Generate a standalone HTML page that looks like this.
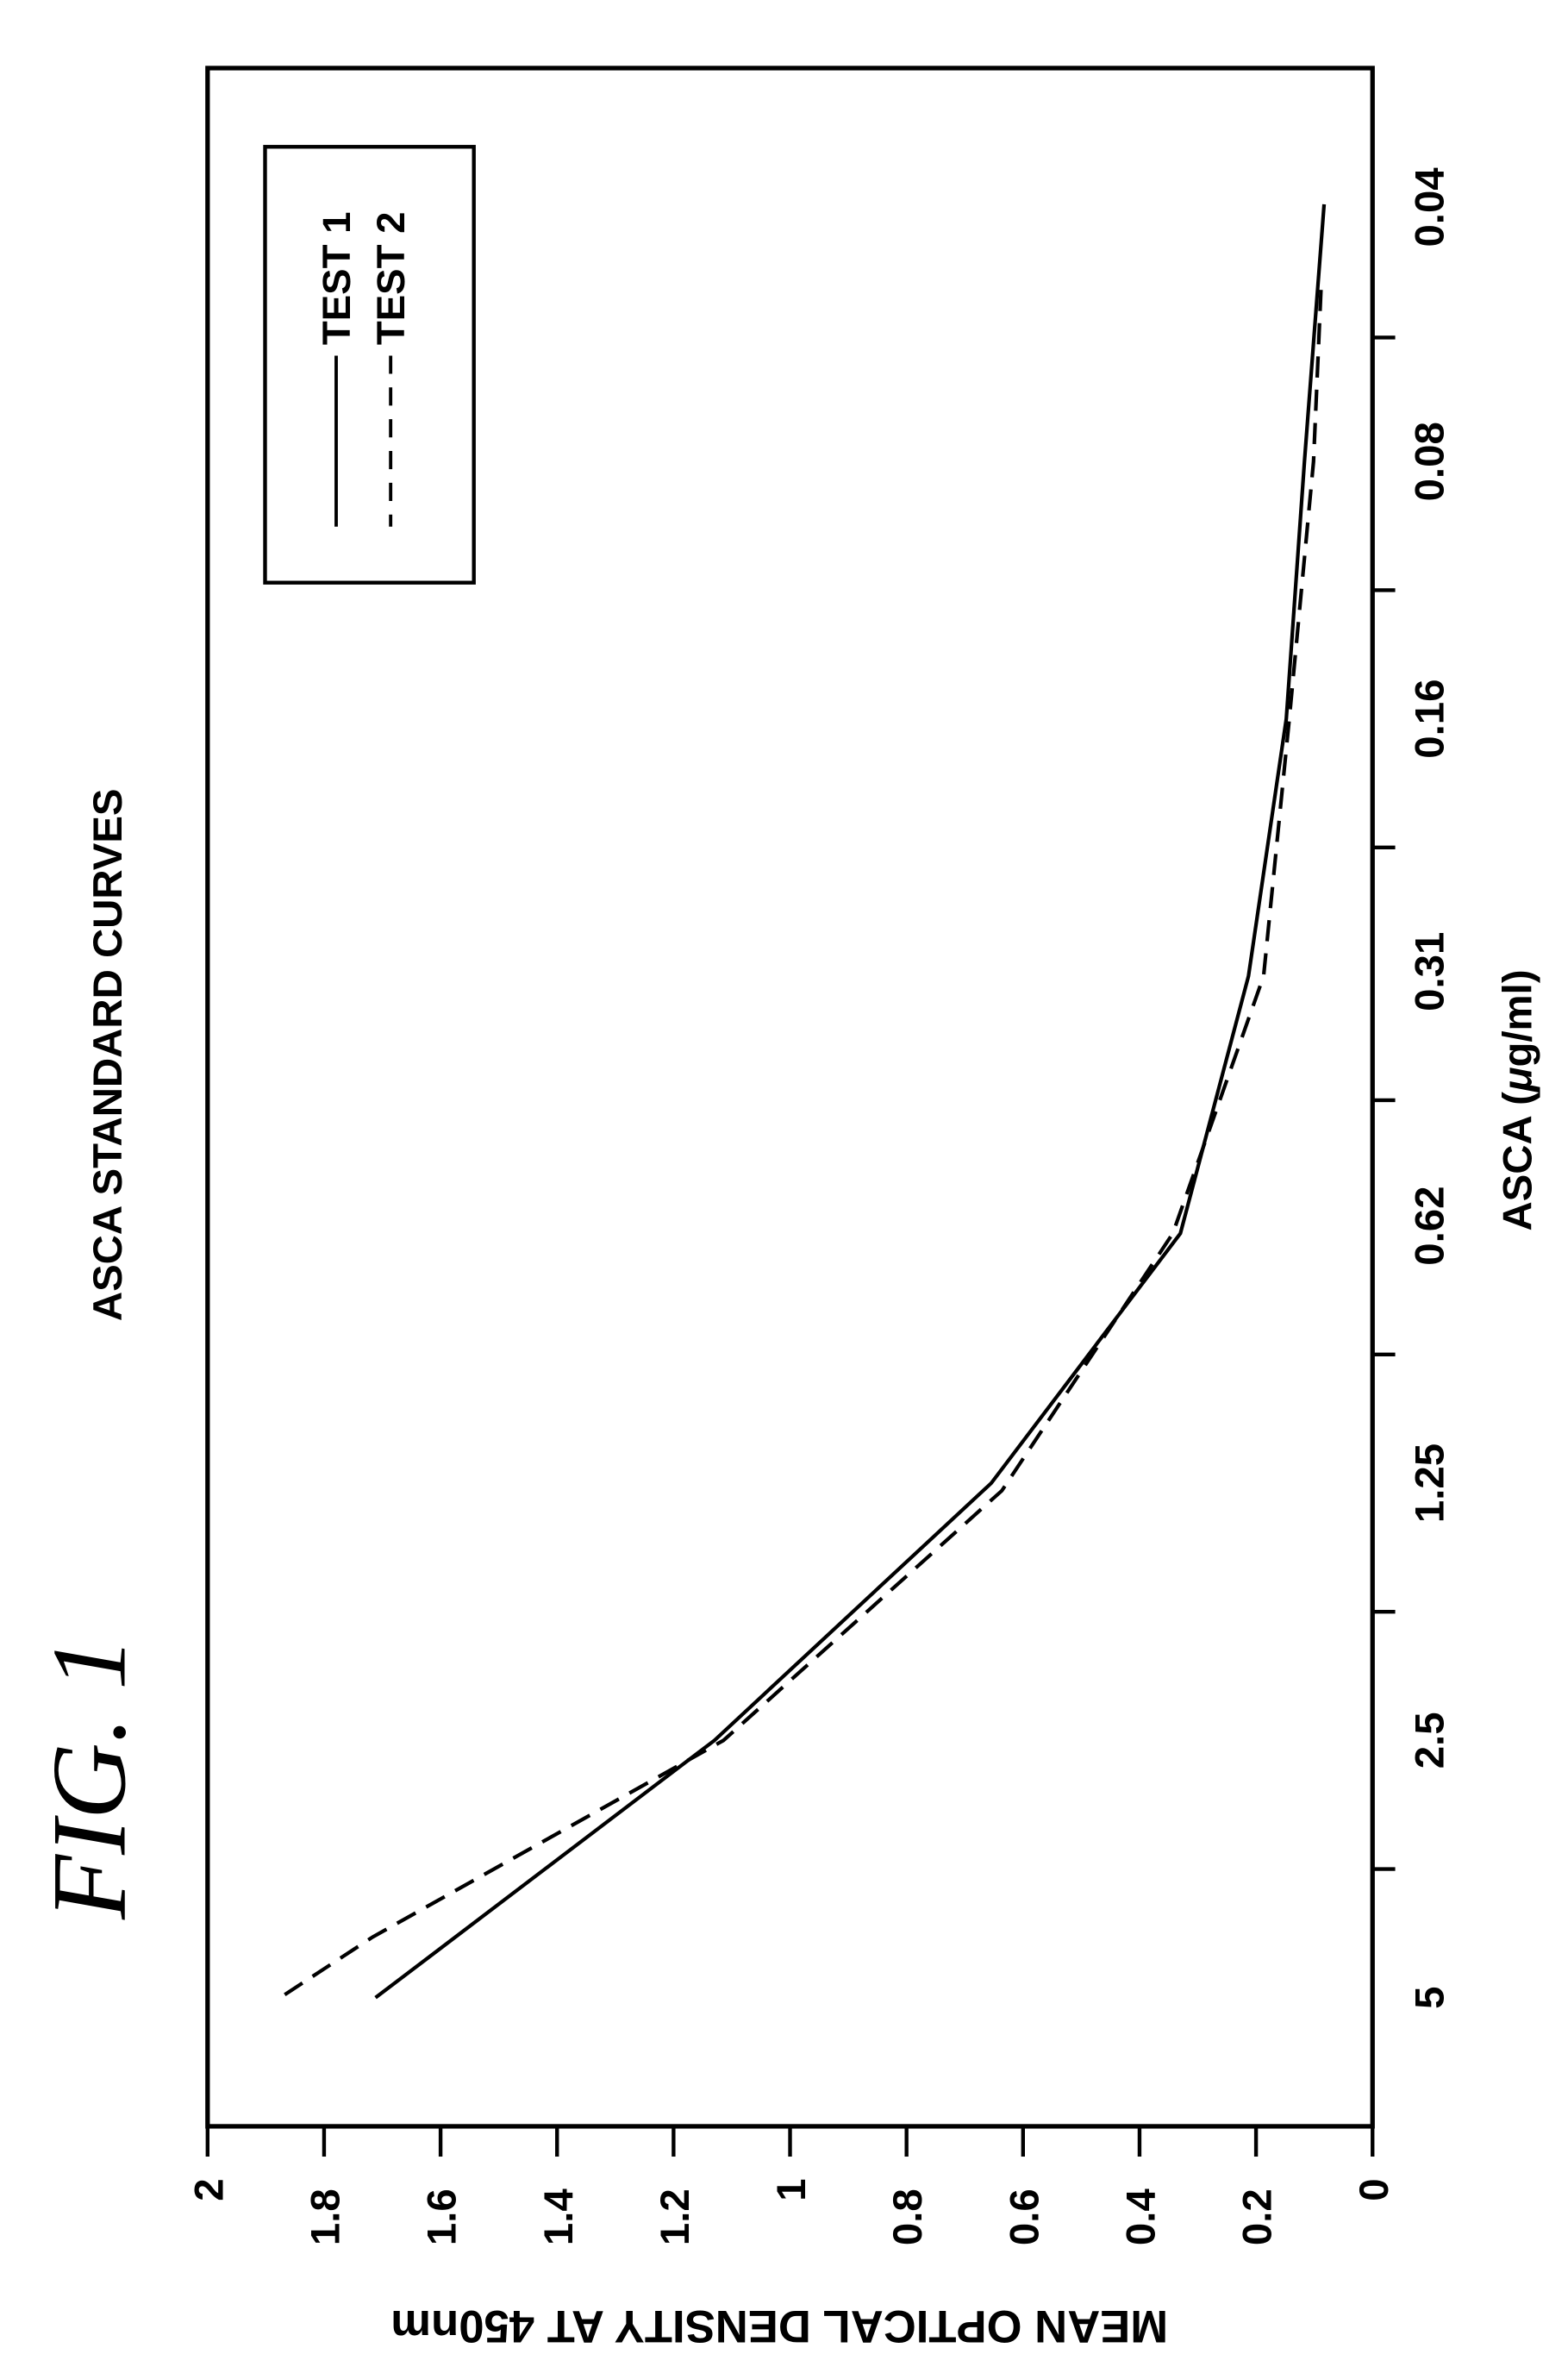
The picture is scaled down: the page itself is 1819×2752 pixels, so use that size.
<!DOCTYPE html>
<html><head><meta charset="utf-8"><style>html,body{margin:0;padding:0;background:#fff}svg{display:block}</style></head>
<body>
<svg width="1819" height="2752" viewBox="0 0 1036 1568" xmlns="http://www.w3.org/2000/svg" font-family="Liberation Sans, sans-serif">
<rect width="1036" height="1568" fill="#fff"/>
<rect x="137" y="45" width="770" height="1360" fill="none" stroke="#000" stroke-width="3"/>
<g stroke="#000" stroke-width="2.5">
<line x1="907" y1="1405" x2="907" y2="1425"/><line x1="830" y1="1405" x2="830" y2="1425"/><line x1="753" y1="1405" x2="753" y2="1425"/><line x1="676" y1="1405" x2="676" y2="1425"/><line x1="599" y1="1405" x2="599" y2="1425"/><line x1="522" y1="1405" x2="522" y2="1425"/><line x1="445" y1="1405" x2="445" y2="1425"/><line x1="368" y1="1405" x2="368" y2="1425"/><line x1="291" y1="1405" x2="291" y2="1425"/><line x1="214" y1="1405" x2="214" y2="1425"/><line x1="137" y1="1405" x2="137" y2="1425"/>
</g>
<g stroke="#000" stroke-width="2.5">
<line x1="907" y1="1235" x2="922" y2="1235"/><line x1="907" y1="1065" x2="922" y2="1065"/><line x1="907" y1="895" x2="922" y2="895"/><line x1="907" y1="727" x2="922" y2="727"/><line x1="907" y1="560" x2="922" y2="560"/><line x1="907" y1="390" x2="922" y2="390"/><line x1="907" y1="223" x2="922" y2="223"/>
</g>
<g font-size="27" font-weight="bold" text-anchor="middle">
<text transform="translate(917,1447) rotate(-90)">0</text>
<text transform="translate(840,1465) rotate(-90)">0.2</text>
<text transform="translate(763,1465) rotate(-90)">0.4</text>
<text transform="translate(686,1465) rotate(-90)">0.6</text>
<text transform="translate(609,1465) rotate(-90)">0.8</text>
<text transform="translate(532,1447) rotate(-90)">1</text>
<text transform="translate(455,1465) rotate(-90)">1.2</text>
<text transform="translate(378,1465) rotate(-90)">1.4</text>
<text transform="translate(301,1465) rotate(-90)">1.6</text>
<text transform="translate(224,1465) rotate(-90)">1.8</text>
<text transform="translate(147,1447) rotate(-90)">2</text>
</g>
<g font-size="27" font-weight="bold" text-anchor="middle">
<text transform="translate(954,1320) rotate(-90)">5</text>
<text transform="translate(954,1150) rotate(-90)">2.5</text>
<text transform="translate(954,980) rotate(-90)">1.25</text>
<text transform="translate(954,810) rotate(-90)">0.62</text>
<text transform="translate(954,642) rotate(-90)">0.31</text>
<text transform="translate(954,475) rotate(-90)">0.16</text>
<text transform="translate(954,305) rotate(-90)">0.08</text>
<text transform="translate(954,137) rotate(-90)">0.04</text>
</g>
<text transform="translate(1012,727) rotate(-90)" font-size="27" font-weight="bold" text-anchor="middle">ASCA (<tspan font-style="italic">μ</tspan>g/ml)</text>
<text transform="translate(80,697) rotate(-90)" font-size="27" font-weight="bold" text-anchor="middle">ASCA STANDARD CURVES</text>
<text transform="translate(515,1527) rotate(180)" font-size="30" font-weight="bold" text-anchor="middle">MEAN OPTICAL DENSITY AT 450nm</text>
<text transform="translate(82,1175) rotate(-90)" font-size="70" font-style="italic" font-family="Liberation Serif, serif" text-anchor="middle">FIG. 1</text>
<rect x="175" y="97" width="138" height="288" fill="none" stroke="#000" stroke-width="2.5"/>
<line x1="222" y1="235" x2="222" y2="348" stroke="#000" stroke-width="2.2"/>
<line x1="258" y1="235" x2="258" y2="348" stroke="#000" stroke-width="2.2" stroke-dasharray="12,9"/>
<text transform="translate(231,228) rotate(-90)" font-size="26" font-weight="bold">TEST 1</text>
<text transform="translate(267,228) rotate(-90)" font-size="26" font-weight="bold">TEST 2</text>
<polyline fill="none" stroke="#000" stroke-width="2.4" points="248,1320 472,1150 655,980 780,815 825,645 850,475 862,305 875,135"/>
<polyline fill="none" stroke="#000" stroke-width="2.4" stroke-dasharray="14,8" points="188,1318 246,1280 478,1150 662,985 775,815 835,645 852,475 868,305 873,190"/>
</svg>
</body></html>
